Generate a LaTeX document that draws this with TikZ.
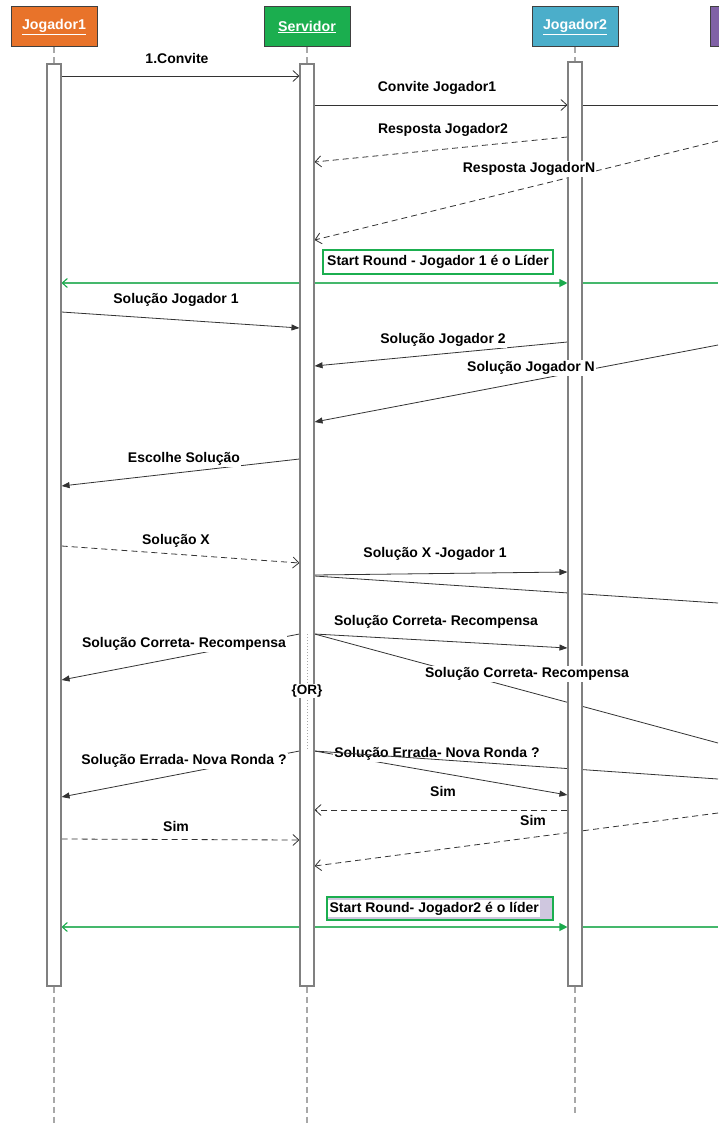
\documentclass[tikz,border=0pt]{standalone}
\usepackage{fontspec}
\setmainfont{Liberation Sans}
\usetikzlibrary{arrows.meta}
\pgfdeclarelayer{bg}
\pgfdeclarelayer{fg}
\pgfsetlayers{bg,main,fg}
\definecolor{jorange}{HTML}{E8732A}
\definecolor{jgreen}{HTML}{1BAE4F}
\definecolor{jblue}{HTML}{4BAECA}
\definecolor{jpurple}{HTML}{8061A6}
\definecolor{hdrborder}{HTML}{404040}
\definecolor{bargray}{HTML}{808080}
\definecolor{lifegray}{HTML}{A8A8A8}
\definecolor{msgcol}{HTML}{333333}
\definecolor{glinecol}{HTML}{45B86C}
\definecolor{gtip}{HTML}{1AAA4C}
\definecolor{lav}{HTML}{CFC7DF}
\begin{document}
\begin{tikzpicture}[x=1pt,y=-1pt,
  hdr/.style={draw=hdrborder, line width=1pt, minimum width=86pt, minimum height=40pt, inner sep=0pt, text=white, font=\bfseries\fontsize{14.2}{17}\selectfont},
  actbar/.style={draw=bargray, fill=white, line width=1.1pt, minimum width=14pt, inner sep=0pt},
  lifeline/.style={draw=lifegray, line width=1.1pt, dash pattern=on 6pt off 4pt},
  msg/.style={draw=msgcol, line width=0.8pt},
  dmsg/.style={msg, dash pattern=on 6pt off 4pt},
  opentip/.style={-{Straight Barb[length=6pt,width=11pt]}},
  filltip/.style={-{Triangle[length=8pt,width=6pt]}},
  lbl/.style={font=\bfseries\fontsize{14}{16}\selectfont, text=black, inner sep=1pt},
  lblw/.style={lbl, fill=white},
  gline/.style={draw=glinecol, line width=1.1pt},
  gtips/.style={{Straight Barb[length=5pt,width=9pt,color=gtip]}-{Triangle[length=8pt,width=8pt,color=gtip]}},
  gbox/.style={lbl, draw=jgreen, line width=1.2pt, fill=white, inner sep=0pt},
  ordot/.style={draw=lifegray, line width=1pt, dash pattern=on 1pt off 2pt}
]
\useasboundingbox (0,0) rectangle (718,1124);

% headers
\node[hdr, fill=jorange] (h1) at (54,27) {\underline{Jogador1}};
\node[hdr, fill=jgreen]  (h2) at (307,27) {\underline{Servidor}};
\node[hdr, fill=jblue]   (h3) at (575,27) {\underline{Jogador2}};
\node[hdr, fill=jpurple] (h4) at (753,27) {};

% activation bars
\node[actbar, minimum height=922pt] (b1) at (54,525) {};
\node[actbar, minimum height=922pt] (b2) at (307,525) {};
\node[actbar, minimum height=924pt] (b3) at (575,524) {};

\coordinate (R) at (718,0);
\coordinate (E1) at (54,1124);
\coordinate (E2) at (307,1124);
\coordinate (E3) at (575,1114);

\begin{pgfonlayer}{bg}
% lifelines
\draw[lifeline] (h1.south) -- (b1.north);
\draw[lifeline] (h2.south) -- (b2.north);
\draw[lifeline] (h3.south) -- (b3.north);
\draw[lifeline] (b1.south) -- (E1);
\draw[lifeline] (b2.south) -- (E2);
\draw[lifeline] (b3.south) -- (E3);

% messages
\draw[msg, opentip] (b1.east |- 0,76) -- (b2.west |- 0,76);
\draw[msg, opentip] (b2.east |- 0,105) -- (b3.west |- 0,105);
\draw[msg] (b2.east |- 0,105) -- (R |- 0,105);
\draw[dmsg, opentip] (b3.west |- 0,137) -- (b2.east |- 0,162);
\draw[dmsg, opentip] (R |- 0,141) -- (b2.east |- 0,240);

\draw[gline, gtips] (b1.east |- 0,283) -- (b3.west |- 0,283);
\draw[gline] (b3.west |- 0,283) -- (R |- 0,283);

\draw[msg, filltip] (b1.east |- 0,312) -- (b2.west |- 0,328);
\draw[msg, filltip] (b3.west |- 0,342) -- (b2.east |- 0,366);
\draw[msg, filltip] (R |- 0,345) -- (b2.east |- 0,422);
\draw[msg, filltip] (b2.west |- 0,459) -- (b1.east |- 0,486);
\draw[dmsg, opentip] (b1.east |- 0,546) -- (b2.west |- 0,563);
\draw[msg, filltip] (b2.east |- 0,575) -- (b3.west |- 0,572);
\draw[msg] (b2.east |- 0,576) -- (R |- 0,603);
\draw[msg, filltip] (b2.east |- 0,634) -- (b3.west |- 0,648);
\draw[msg, filltip] (b2.west |- 0,634) -- (b1.east |- 0,680);
\draw[msg] (b2.east |- 0,634) -- (R |- 0,743);
\draw[msg, filltip] (b2.west |- 0,751) -- (b1.east |- 0,797);
\draw[msg, filltip] (b2.east |- 0,751) -- (b3.west |- 0,795);
\node[lblw] (l17) at (437,754) {Solução Errada- Nova Ronda ?};
\draw[msg] (b2.east |- 0,751) -- (R |- 0,779);
\draw[dmsg, opentip] (b3.west |- 0,810) -- (b2.east |- 0,810);
\draw[dmsg, opentip] (R |- 0,813) -- (b2.east |- 0,866);
\draw[dmsg, opentip] (b1.east |- 0,839) -- (b2.west |- 0,840);

\draw[gline, gtips] (b1.east |- 0,927) -- (b3.west |- 0,927);
\draw[gline] (b3.west |- 0,927) -- (R |- 0,927);
\end{pgfonlayer}

\begin{pgfonlayer}{fg}
\coordinate (o1) at (307,634);
\coordinate (o2) at (307,750);
\draw[ordot] (o1) -- (o2);
\node[lbl] (l1) at (177,58) {1.Convite};
\node[lbl] (l2) at (437,88) {Convite Jogador1};
\node[lbl] (l3) at (443,130) {Resposta Jogador2};
\node[lblw] (l4) at (529,169) {Resposta JogadorN};
\node[gbox, minimum width=230pt, minimum height=24pt] (s1) at (438,262) {Start Round - Jogador 1 é o Líder};
\node[lbl] (l6) at (176,300) {Solução Jogador 1};
\node[lblw] (l7) at (443,340) {Solução Jogador 2};
\node[lblw] (l8) at (531,368) {Solução Jogador N};
\node[lblw] (l9) at (184,459) {Escolhe Solução};
\node[lbl] (l10) at (176,541) {Solução X};
\node[lbl] (l11) at (435,554) {Solução X -Jogador 1};
\node[lbl] (l13) at (436,622) {Solução Correta- Recompensa};
\node[lblw] (l14) at (184,644) {Solução Correta- Recompensa};
\node[lblw] (l15) at (527,674) {Solução Correta- Recompensa};
\node[lblw, font=\bfseries\fontsize{13.5}{15}\selectfont, inner sep=0.5pt] (or) at (307,691) {\{OR\}};
\node[lblw] (l16) at (184,761) {Solução Errada- Nova Ronda ?};
\node[lbl] (l19) at (443,791) {Sim};
\node[lblw] (l20) at (533,820) {Sim};
\node[lbl] (l21) at (176,826) {Sim};
\node[gbox, fill=lav, minimum width=226pt, minimum height=23pt] (s2) at (440,908.5) {};
\node[lbl, fill=white, anchor=west, inner sep=1.5pt] (s2t) at ([xshift=1.5pt]s2.west) {Start Round- Jogador2 é o líder};
\end{pgfonlayer}
\end{tikzpicture}
\end{document}
